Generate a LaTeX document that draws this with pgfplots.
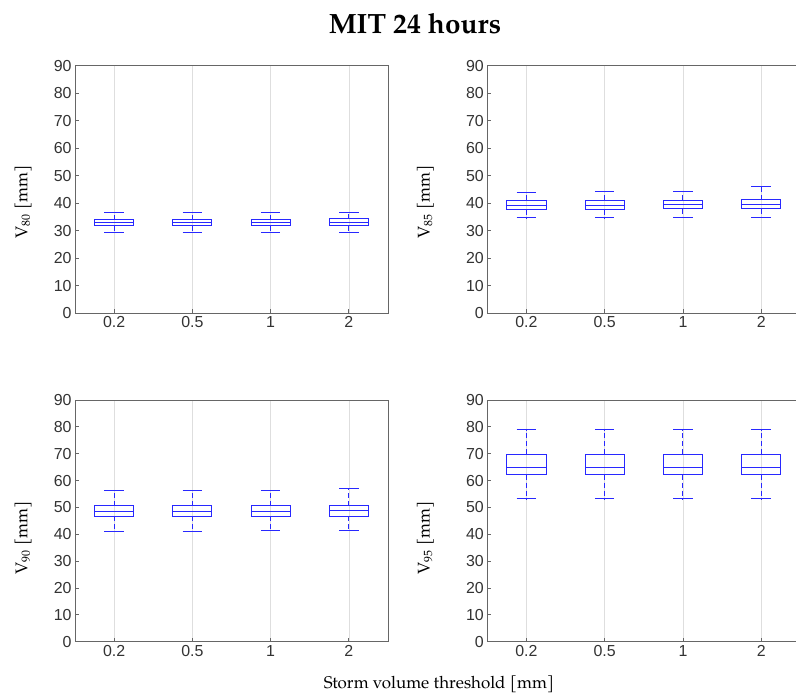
\documentclass[border=0pt]{standalone}
\usepackage{fontspec}
\setmainfont{TeX Gyre Pagella}
\setsansfont{Liberation Sans}
\usepackage{pgfplots}
\usepackage{pgfplotstable}
\pgfplotsset{compat=1.18}
\usepgfplotslibrary{statistics}

\definecolor{boxblue}{RGB}{40,40,255}

% box statistics: lower whisker, quartiles, median, upper whisker
\pgfplotstableread{
lw   lq   med  uq   uw
29.5 31.9 32.9 34.0 36.5
29.5 31.9 32.9 34.0 36.5
29.5 31.9 32.9 34.0 36.5
29.5 31.9 33.1 34.3 36.5
}\tEighty
\pgfplotstableread{
lw   lq   med  uq   uw
34.7 37.7 39.0 41.0 44.0
34.7 37.7 39.0 41.0 44.3
34.7 38.0 39.4 41.0 44.3
35.0 38.0 39.5 41.3 46.0
}\tEightyFive
\pgfplotstableread{
lw   lq   med  uq   uw
41.1 46.7 48.4 50.6 56.4
41.1 46.7 48.4 50.6 56.4
41.5 46.7 48.4 50.6 56.4
41.5 46.7 48.7 50.6 56.9
}\tNinety
\pgfplotstableread{
lw   lq   med  uq   uw
53.2 62.2 65.0 69.8 79.0
53.2 62.2 65.0 69.8 79.0
53.2 62.2 65.0 69.8 79.0
53.2 62.2 65.0 69.8 79.0
}\tNinetyFive

\pgfplotsset{
  mitpanel/.style={
    scale only axis, width=313bp,
    xmin=0.5, xmax=4.5, ymin=0, ymax=90,
    xtick={1,2,3,4}, xticklabels={0.2,0.5,1,2},
    ytick={0,10,...,90},
    tick pos=left, tick align=inside, major tick length=4bp,
    xmajorgrids, grid style={draw=black!13, line width=0.7pt},
    axis line style={draw=black!60, line width=0.9pt},
    every tick/.style={draw=black!60, line width=0.8pt},
    ticklabel style={font={\fontsize{16}{18}\selectfont\sffamily}, text=black!80},
    /pgf/number format/assume math mode=true,
    ylabel style={font={\fontsize{17}{20}\selectfont}, anchor=center},
    boxplot/draw direction=y,
    boxplot/box extend=0.5,
    boxplot/whisker extend=0.25,
    boxplot/draw/lower whisker/.code={%
      \draw[boxblue, line width=1pt, dash pattern=on 5bp off 3bp]
        (boxplot box cs:\pgfplotsboxplotvalue{lower quartile},0.5) --
        (boxplot box cs:\pgfplotsboxplotvalue{lower whisker},0.5);
      \draw[boxblue, line width=1pt]
        (boxplot whisker cs:\pgfplotsboxplotvalue{lower whisker},0) --
        (boxplot whisker cs:\pgfplotsboxplotvalue{lower whisker},1);
    },
    boxplot/draw/upper whisker/.code={%
      \draw[boxblue, line width=1pt, dash pattern=on 5bp off 3bp]
        (boxplot box cs:\pgfplotsboxplotvalue{upper quartile},0.5) --
        (boxplot box cs:\pgfplotsboxplotvalue{upper whisker},0.5);
      \draw[boxblue, line width=1pt]
        (boxplot whisker cs:\pgfplotsboxplotvalue{upper whisker},0) --
        (boxplot whisker cs:\pgfplotsboxplotvalue{upper whisker},1);
    },
  },
}

% one box per table row, values taken from the table at once
\newcommand{\boxes}[1]{%
  \pgfplotsinvokeforeach{0,...,3}{%
    \pgfplotstablegetelem{##1}{lw}\of#1\let\vlw\pgfplotsretval
    \pgfplotstablegetelem{##1}{lq}\of#1\let\vlq\pgfplotsretval
    \pgfplotstablegetelem{##1}{med}\of#1\let\vmed\pgfplotsretval
    \pgfplotstablegetelem{##1}{uq}\of#1\let\vuq\pgfplotsretval
    \pgfplotstablegetelem{##1}{uw}\of#1\let\vuw\pgfplotsretval
    \edef\doplot{\noexpand\addplot[boxblue, line width=1pt, solid,
      boxplot prepared={draw position=\the\numexpr##1+1\relax,
        lower whisker=\vlw, lower quartile=\vlq, median=\vmed,
        upper quartile=\vuq, upper whisker=\vuw}] coordinates {};}%
    \doplot
  }%
}

\begin{document}
\begin{tikzpicture}[x=1bp, y=1bp]

\begin{axis}[mitpanel, at={(75bp,381.7bp)}, anchor=south west, height=247.6bp,
  ylabel={V\textsubscript{80} [mm]},
  ylabel style={at={(axis description cs:-0.166,0.45)}}]
\boxes{\tEighty}
\end{axis}

\begin{axis}[mitpanel, at={(487.3bp,381.7bp)}, anchor=south west, height=247.6bp,
  ylabel={V\textsubscript{85} [mm]},
  ylabel style={at={(axis description cs:-0.198,0.45)}}]
\boxes{\tEightyFive}
\end{axis}

\begin{axis}[mitpanel, at={(75bp,53.3bp)}, anchor=south west, height=241.7bp,
  ylabel={V\textsubscript{90} [mm]},
  ylabel style={at={(axis description cs:-0.166,0.43)}}]
\boxes{\tNinety}
\end{axis}

\begin{axis}[mitpanel, at={(487.3bp,53.3bp)}, anchor=south west, height=241.7bp,
  ylabel={V\textsubscript{95} [mm]},
  ylabel style={at={(axis description cs:-0.198,0.43)}}]
\boxes{\tNinetyFive}
\end{axis}

\node[font={\fontsize{28}{32}\selectfont\bfseries}] at (415,671) {MIT 24 hours};
\node[font={\fontsize{17}{20}\selectfont}] at (439,11) {Storm volume threshold [mm]};

\pgfresetboundingbox
\useasboundingbox (0,0) rectangle (796,695);
\end{tikzpicture}
\end{document}
